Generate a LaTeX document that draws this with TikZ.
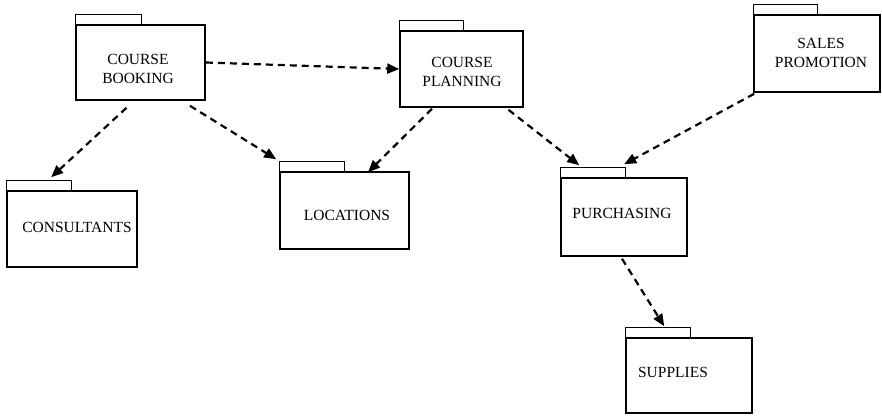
\documentclass[tikz,border=0pt]{standalone}
\usepackage{fontspec}
\setmainfont{Liberation Serif}
\usetikzlibrary{arrows.meta,calc}
\begin{document}
\begin{tikzpicture}[x=1pt,y=-1pt,
  pkgbody/.style={draw,line width=1.6pt,inner sep=0pt},
  pkgtab/.style={draw,line width=1.2pt},
  pkglabel/.style={inner sep=0pt,align=center,font=\fontsize{15.5}{19}\selectfont},
  dep/.style={line width=2.2pt,dash pattern=on 7pt off 5pt,
    -{Triangle[length=12pt,width=10pt]}}]
\useasboundingbox (0,0) rectangle (882,415);

% package bodies
\node[pkgbody,minimum width=129pt,minimum height=75pt] (booking)     at (140.5,62.5) {};
\node[pkgbody,minimum width=130pt,minimum height=76pt] (consultants) at (72,229) {};
\node[pkgbody,minimum width=123pt,minimum height=76pt] (planning)    at (461.5,69) {};
\node[pkgbody,minimum width=129pt,minimum height=77pt] (locations)   at (344.5,210.5) {};
\node[pkgbody,minimum width=126pt,minimum height=78pt] (purchasing)  at (624,217) {};
\node[pkgbody,minimum width=126pt,minimum height=75pt] (supplies)    at (689,375.5) {};
\node[pkgbody,minimum width=126pt,minimum height=77pt] (sales)       at (817,53.5) {};

% package tabs, sitting on the top edge of each body
\foreach \p/\w in {booking/66,consultants/65,planning/64,locations/65,
                   purchasing/65,supplies/65,sales/64}
  \draw[pkgtab] (\p.north west) rectangle ++(\w,-9.5);

% package names
\node[pkglabel] (bookinglabel)     at (138,69)  {COURSE\\BOOKING};
\node[pkglabel] (consultantslabel) at (77,227)  {CONSULTANTS};
\node[pkglabel] (planninglabel)    at (462,72)  {COURSE\\PLANNING};
\node[pkglabel] (locationslabel)   at (347,215) {LOCATIONS};
\node[pkglabel] (purchasinglabel)  at (622,213) {PURCHASING};
\node[pkglabel] (supplieslabel)    at (673,372) {SUPPLIES};
\node[pkglabel] (saleslabel)       at (821,53)  {SALES\\PROMOTION};

% dependencies
\draw[dep] (booking.east) -- (planning.west);
\draw[dep] ($(booking.south)+(-14,7)$) -- ($(consultants.north west)+(45,-13)$);
\draw[dep] ($(booking.south)+(49.5,5)$) -- ($(locations.north west)+(-3,-12)$);
\draw[dep] ($(planning.south)+(-29.5,1)$) -- ($(locations.north)+(23.5,1)$);
\draw[dep] ($(planning.south)+(47,2)$) -- ($(purchasing.north west)+(19,-12)$);
\draw[dep] ($(sales.south west)+(1,1)$) -- ($(purchasing.north west)+(64,-13)$);
\draw[dep] ($(purchasing.south)+(-2,2)$) -- ($(supplies.north west)+(39,-11)$);
\end{tikzpicture}
\end{document}
